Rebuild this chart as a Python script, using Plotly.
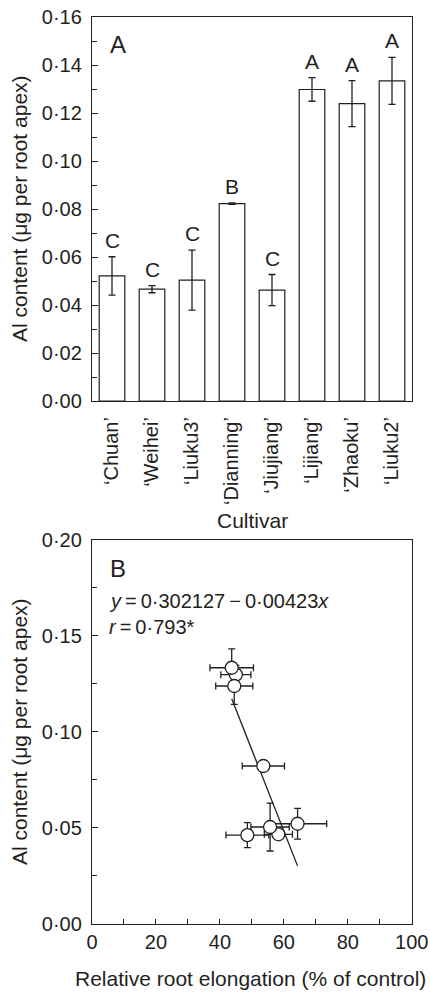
import plotly.graph_objects as go

# ---------------- data ----------------
cultivars = ["Chuan", "Weihei", "Liuku3", "Dianning", "Jiujiang", "Lijiang", "Zhaoku", "Liuku2"]
al_mean = [0.0521, 0.0466, 0.0504, 0.0822, 0.0462, 0.1298, 0.1239, 0.1334]
al_err = [0.0080, 0.0015, 0.0125, 0.0003, 0.0065, 0.0049, 0.0096, 0.0098]
sig_letters = ["C", "C", "C", "B", "C", "A", "A", "A"]

elong_mean = [64.3, 58.3, 55.7, 53.6, 48.6, 45.0, 44.5, 43.7]
elong_err = [9.1, 4.4, 6.0, 6.6, 6.7, 4.7, 5.8, 6.8]

reg_intercept = 0.302127
reg_slope = -0.00423

INK = "#231f20"
FONT = "Liberation Sans, Arial, Helvetica, sans-serif"
W, H = 430, 993

labels = ["\u2018" + c + "\u2019" for c in cultivars]

fig = go.Figure()

# ---------------- panel A: bars ----------------
fig.add_trace(go.Bar(
    x=labels, y=al_mean,
    width=0.64,
    marker=dict(color="white", line=dict(color=INK, width=1.2)),
    error_y=dict(type="data", array=al_err, color=INK, thickness=1.3, width=3.5),
    xaxis="x", yaxis="y",
))

# ---------------- panel B: regression + scatter ----------------
rx = [min(elong_mean), max(elong_mean)]
ry = [reg_intercept + reg_slope * v for v in rx]
fig.add_trace(go.Scatter(
    x=rx, y=ry, mode="lines", line=dict(color=INK, width=1.3),
    xaxis="x2", yaxis="y2",
))
fig.add_trace(go.Scatter(
    x=elong_mean, y=al_mean, mode="markers",
    marker=dict(size=13, color="white", line=dict(color=INK, width=1.3)),
    error_x=dict(type="data", array=elong_err, color=INK, thickness=1.3, width=3.5),
    error_y=dict(type="data", array=al_err, color=INK, thickness=1.3, width=3.5),
    xaxis="x2", yaxis="y2",
))

def px_x(p):
    return p / W

def px_y(p):
    return 1 - p / H

annotations = []
for lab, m, e, s in zip(labels, al_mean, al_err, sig_letters):
    annotations.append(dict(
        x=lab, y=m + e, xref="x", yref="y", text=s, showarrow=False,
        yanchor="bottom", yshift=3, font=dict(size=21, color=INK, family=FONT),
    ))

annotations += [
    dict(x=px_x(118), y=px_y(45), xref="paper", yref="paper", text="A",
         showarrow=False, xanchor="center", yanchor="middle",
         font=dict(size=24, color=INK, family=FONT)),
    dict(x=px_x(118), y=px_y(568), xref="paper", yref="paper", text="B",
         showarrow=False, xanchor="center", yanchor="middle",
         font=dict(size=24, color=INK, family=FONT)),
    dict(x=px_x(107), y=px_y(601), xref="paper", yref="paper",
         text="<i>y</i>\u2009=\u20090\u00b7302127\u2009\u2212\u20090\u00b700423<i>x</i>",
         showarrow=False, xanchor="left", yanchor="middle",
         font=dict(size=20, color=INK, family=FONT)),
    dict(x=px_x(107), y=px_y(627), xref="paper", yref="paper",
         text="<i>r</i>\u2009=\u20090\u00b7793*",
         showarrow=False, xanchor="left", yanchor="middle",
         font=dict(size=20, color=INK, family=FONT)),
    dict(x=px_x(252), y=px_y(520), xref="paper", yref="paper", text="Cultivar",
         showarrow=False, xanchor="center", yanchor="middle",
         font=dict(size=21, color=INK, family=FONT)),
    dict(x=px_x(250), y=px_y(978), xref="paper", yref="paper",
         text="Relative root elongation (% of control)",
         showarrow=False, xanchor="center", yanchor="middle",
         font=dict(size=21, color=INK, family=FONT)),
    dict(x=px_x(19), y=px_y(209), xref="paper", yref="paper",
         text="Al content (\u03bcg per root apex)", textangle=-90,
         showarrow=False, xanchor="center", yanchor="middle",
         font=dict(size=21, color=INK, family=FONT)),
    dict(x=px_x(19), y=px_y(732), xref="paper", yref="paper",
         text="Al content (\u03bcg per root apex)", textangle=-90,
         showarrow=False, xanchor="center", yanchor="middle",
         font=dict(size=21, color=INK, family=FONT)),
]

axis_common = dict(
    showline=True, linecolor=INK, linewidth=1.3, mirror=True,
    showgrid=False, zeroline=False, automargin=False,
    tickcolor=INK, tickwidth=1.2,
)
tick_font = dict(size=20, color=INK, family=FONT)

fig.update_layout(
    width=W, height=H,
    margin=dict(l=0, r=0, t=0, b=0),
    paper_bgcolor="white", plot_bgcolor="white",
    separators="\u00b7,",
    showlegend=False,
    font=dict(family=FONT, color=INK),
    annotations=annotations,
    xaxis=dict(
        domain=[px_x(92), px_x(412)], anchor="y",
        type="category", range=[-0.5, 7.5],
        ticks="", tickangle=-90, ticklabelstandoff=7,
        tickfont=dict(size=20, color=INK, family=FONT),
        **axis_common,
    ),
    yaxis=dict(
        domain=[px_y(401), px_y(17)], anchor="x",
        range=[0, 0.16], dtick=0.02, tick0=0, tickformat=".2f",
        ticks="inside", ticklen=6, ticklabelstandoff=5, tickfont=tick_font,
        minor=dict(ticks="inside", ticklen=5, dtick=0.01, tickcolor=INK, tickwidth=1.2),
        **axis_common,
    ),
    xaxis2=dict(
        domain=[px_x(92), px_x(411.7)], anchor="y2",
        range=[0, 100], dtick=20, tick0=0, tickfont=tick_font,
        ticks="inside", ticklen=5,
        minor=dict(ticks="inside", ticklen=5, dtick=10, tickcolor=INK, tickwidth=1.2),
        **axis_common,
    ),
    yaxis2=dict(
        domain=[px_y(923.7), px_y(540)], anchor="x2",
        range=[0, 0.2], dtick=0.05, tick0=0, tickformat=".2f",
        ticks="inside", ticklen=6, ticklabelstandoff=5, tickfont=tick_font,
        minor=dict(ticks="inside", ticklen=5, dtick=0.025, tickcolor=INK, tickwidth=1.2),
        **axis_common,
    ),
)

fig.write_html("out.html")
